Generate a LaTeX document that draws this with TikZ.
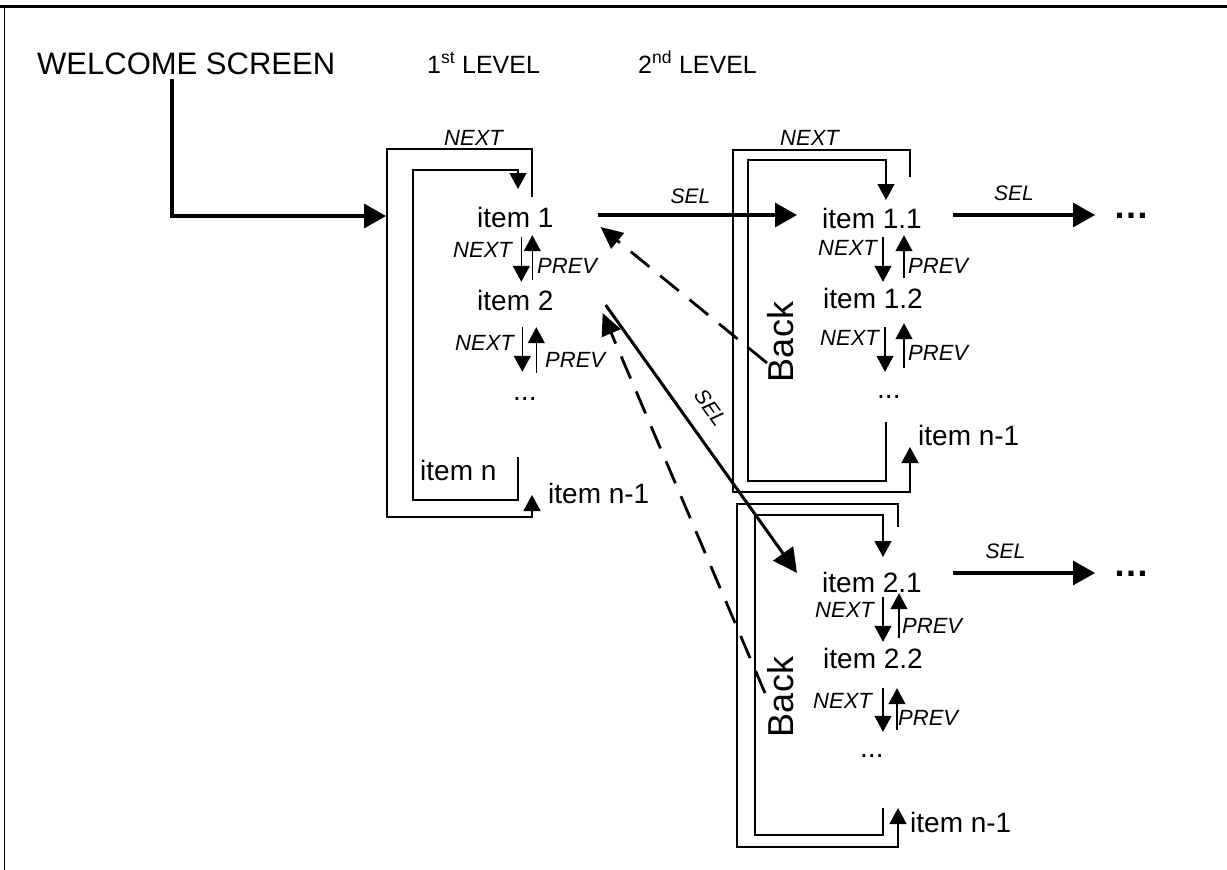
\documentclass[tikz,border=0pt]{standalone}
\usepackage{fontspec}
\setmainfont{Liberation Sans}
\usetikzlibrary{arrows.meta,calc}

\begin{document}
\begin{tikzpicture}[x=1pt,y=-1pt,
  itm/.style={font=\fontsize{28}{32}\selectfont,inner sep=0pt,text height=20pt,text depth=0pt,anchor=base west},
  lvl/.style={font=\fontsize{25}{30}\selectfont,inner sep=0pt,anchor=base west},
  key/.style={font=\fontsize{22}{26}\selectfont\itshape,inner sep=0pt,anchor=base west},
  sellbl/.style={font=\fontsize{21}{25}\selectfont\itshape,inner sep=0pt},
  backlbl/.style={font=\fontsize{36}{40}\selectfont,inner sep=0pt,rotate=90},
  more/.style={font=\fontsize{36}{40}\selectfont\bfseries,inner sep=0pt,anchor=base west},
  nav/.style={line width=1.2pt,-{Triangle[length=16pt,width=17pt]}},
  selarr/.style={line width=3.5pt,-{Triangle[length=22pt,width=24pt]}},
  backarr/.style={line width=2.8pt,dash pattern=on 24pt off 14pt,-{Triangle[length=22pt,width=20pt]}}]
  \useasboundingbox (0,0) rectangle (1227,870);
  % page frame
  \draw[line width=3pt] (0,6) -- (1227,6);
  \draw[line width=1pt] (4,6) -- (4,870);

  % headings
  \node[inner sep=0pt,anchor=base west,font=\fontsize{31}{36}\selectfont] (welcome) at (37,74) {WELCOME SCREEN};
  \node[lvl] (lvlone) at (427,73) {1\textsuperscript{st} LEVEL};
  \node[lvl] (lvltwo) at (638,73) {2\textsuperscript{nd} LEVEL};

  % 1st level menu
  \node[itm] (item1) at (477,227) {item 1};
  \node[itm] (item2) at (477,310) {item 2};
  \node[itm] (dotsA) at (513,400) {...};
  \node[itm] (itemn) at (420,480) {item n};
  \node[itm] (itemnA) at (548,503) {item n-1};
  \node[key] at (444,145) {NEXT};
  \node[key] at (453,257) {NEXT};
  \node[key] at (537,273) {PREV};
  \node[key] at (455,350) {NEXT};
  \node[key] at (545,367) {PREV};
  \draw[nav] (532,197) -- (532,149) -- (387,149) -- (387,517) -- (532,517) -- (532,495);
  \draw[nav] (518,457) -- (518,500) -- (413,500) -- (413,170) -- (518,170) -- (518,189);
  \draw[nav] ($(item1.south)+(6,10)$) -- ($(item2.north)+(6,-8)$);
  \draw[nav] ($(item2.north)+(17,-10)$) -- ($(item1.south)+(17,8)$);
  \draw[nav] ($(item2.south)+(7,17)$) -- ($(item2.south |- dotsA.north)+(7,-8)$);
  \draw[nav] ($(item2.south |- dotsA.north)+(21,-7)$) -- ($(item2.south)+(21,17)$);

  % 2nd level, first submenu
  \node[itm] (item11) at (822,228) {item 1.1};
  \node[itm] (item12) at (823,308) {item 1.2};
  \node[itm] (dotsB) at (877,398) {...};
  \node[itm] (itemnB) at (918,445) {item n-1};
  \node[backlbl] (backB) at (781,342) {Back};
  \node[key] at (780,145) {NEXT};
  \node[key] at (818,255) {NEXT};
  \node[key] at (908,273) {PREV};
  \node[key] at (820,345) {NEXT};
  \node[key] at (908,360) {PREV};
  \draw[nav] (910,177) -- (910,150) -- (733,150) -- (733,492) -- (910,492) -- (910,447);
  \draw[nav] (886,422) -- (886,481) -- (748,481) -- (748,160) -- (886,160) -- (886,200);
  \draw[nav] ($(item11.south)+(11,9)$) -- ($(item12.north)+(10,-6)$);
  \draw[nav] ($(item12.north)+(31,-10)$) -- ($(item11.south)+(32,7)$);
  \draw[nav] ($(item12.south)+(12,19)$) -- ($(item12.south |- dotsB.north)+(12,-6)$);
  \draw[nav] ($(item12.south |- dotsB.north)+(31,-10)$) -- ($(item12.south)+(31,15)$);

  % 2nd level, second submenu
  \node[itm] (item21) at (822,592) {item 2.1};
  \node[itm] (item22) at (823,668) {item 2.2};
  \node[itm] (dotsC) at (860,757) {...};
  \node[itm] (itemnC) at (910,832) {item n-1};
  \node[backlbl] (backC) at (781,697) {Back};
  \node[key] at (815,617) {NEXT};
  \node[key] at (902,633) {PREV};
  \node[key] at (813,708) {NEXT};
  \node[key] at (898,725) {PREV};
  \draw[nav] (898,527) -- (898,504) -- (737,504) -- (737,847) -- (898,847) -- (898,808);
  \draw[nav] (883,808) -- (883,835) -- (755,835) -- (755,515) -- (883,515) -- (883,557);
  \draw[nav] ($(item21.south)+(11,5)$) -- ($(item22.north)+(10,-6)$);
  \draw[nav] ($(item22.north)+(26,-10)$) -- ($(item21.south)+(27,1)$);
  \draw[nav] ($(item22.south)+(10,20)$) -- ($(item22.south |- dotsC.north)+(10,-5)$);
  \draw[nav] ($(item22.south |- dotsC.north)+(24,-7)$) -- ($(item22.south)+(24,20)$);

  % deeper levels
  \node[more] (moreB) at (1113,218) {…};
  \node[more] (moreC) at (1113,576) {…};

  % selections
  \coordinate (boxAin) at (386,216);
  \draw[selarr] ($(welcome.south west)+(135,4)$) |- (boxAin);
  \draw[selarr] ($(item1.east)+(44,-2)$) coordinate (sA) -- ($(sA -| item11.west)+(-25,0)$)
    node[sellbl,pos=0.465,above=10pt] {SEL};
  \draw[selarr] ($(item11.east)+(31,-3)$) coordinate (sB) -- ($(sB -| moreB.west)+(-18,0)$)
    node[sellbl,pos=0.43,above=13pt] {SEL};
  \draw[selarr] ($(item21.east)+(31,-9)$) coordinate (sC) -- ($(sC -| moreC.west)+(-18,0)$)
    node[sellbl,pos=0.37,above=13pt] {SEL};
  \draw[line width=3pt,-{Triangle[length=24pt,width=24pt]}] ($(item2.east)+(52,5)$) -- ($(item21.west)+(-25,-9)$)
    node[sellbl,pos=0.44,sloped,above=17pt] {SEL};

  % back
  \draw[backarr] ($(backB.center)+(-14,21)$) -- ($(item1.east)+(47,10)$);
  \draw[backarr] ($(backC.center)+(-16,-4)$) -- ($(item2.east)+(49,13)$);
\end{tikzpicture}
\end{document}
